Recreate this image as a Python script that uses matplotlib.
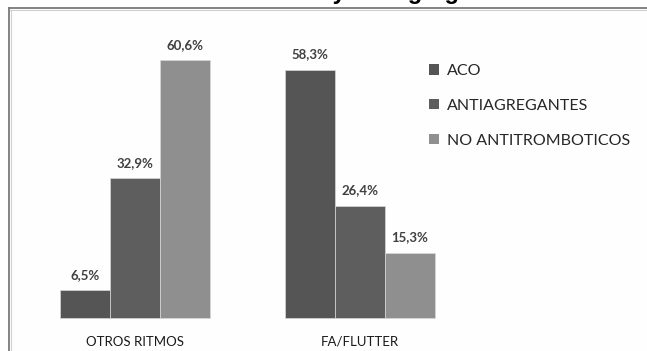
import matplotlib
matplotlib.use("Agg")
import matplotlib.pyplot as plt
from matplotlib.lines import Line2D
from matplotlib.patches import Patch
import numpy as np

categories = ["OTROS RITMOS", "FA/FLUTTER"]
series_names = ["ACO", "ANTIAGREGANTES", "NO ANTITROMBOTICOS"]
aco = [6.5, 58.3]
antiagregantes = [32.9, 26.4]
no_antitromboticos = [60.6, 15.3]
series_values = [aco, antiagregantes, no_antitromboticos]
colors = ["#555555", "#5e5e5e", "#8f8f8f"]
title = "Ritmo cardíaco y antiagregación"

W, H = 647, 351
fig = plt.figure(figsize=(W / 100, H / 100), dpi=100)
fig.patch.set_facecolor("white")

# plot area box (open on the right and bottom)
fig.patches.append(plt.Rectangle((9 / W, 0), 1 - 9 / W, 1 - 8 / H,
                                 transform=fig.transFigure,
                                 facecolor="#fefefe", edgecolor="none", zorder=-5))
fig.lines.append(Line2D([9 / W, 1], [1 - 8 / H, 1 - 8 / H], transform=fig.transFigure,
                        color="#7a7a7a", lw=1.3, zorder=-4))
fig.lines.append(Line2D([9 / W, 1], [1 - 9.5 / H, 1 - 9.5 / H], transform=fig.transFigure,
                        color="#d0d0d0", lw=0.8, zorder=-4))
fig.lines.append(Line2D([9 / W, 9 / W], [0, 1 - 8 / H], transform=fig.transFigure,
                        color="#7a7a7a", lw=1.3, zorder=-4))
fig.lines.append(Line2D([10.5 / W, 10.5 / W], [0, 1 - 9.5 / H], transform=fig.transFigure,
                        color="#d0d0d0", lw=0.8, zorder=-4))

ax = fig.add_axes([0, 0, 1, 1], zorder=2)
ax.patch.set_visible(False)
ax.axis("off")

group_px = 225.0
first_center_px = 135.0
px_per_pct = 4.257
zero_px = 318.0
ax.set_xlim(-first_center_px / group_px, (W - first_center_px) / group_px)
ax.set_ylim(-(H - zero_px) / px_per_pct, zero_px / px_per_pct)

x = np.arange(len(categories))
bw = 50.0 / group_px
offsets = [-bw, 0, bw]
handles = []
for vals, name, col, off in zip(series_values, series_names, colors, offsets):
    bars = ax.bar(x + off, vals, width=bw, color=col, edgecolor="#d8d8d8",
                  linewidth=0.5, label=name, zorder=2)
    handles.append(Patch(facecolor=col, edgecolor="none", label=name))
    for b, v in zip(bars, vals):
        ax.text(b.get_x() + b.get_width() / 2, v + 2.2,
                f"{v:.1f}".replace(".", ",") + "%",
                ha="center", va="bottom", fontsize=9.5, fontweight="bold",
                color="#404040", family="Lato")

for xi, cat in zip(x, categories):
    ax.text(xi, -(342 - zero_px) / px_per_pct, cat, ha="center", va="center",
            fontsize=9.5, color="#1a1a1a", family="Lato")

leg = ax.legend(handles=handles, loc="upper left",
                bbox_to_anchor=(429 / W, 1 - 64 / H), bbox_transform=fig.transFigure,
                frameon=False, borderpad=0, borderaxespad=0,
                handlelength=0.62, handleheight=0.62,
                handletextpad=0.5, labelspacing=1.3,
                prop={"family": "Lato", "size": 11.5})
for t in leg.get_texts():
    t.set_color("#262626")

# title sits above the top edge; only its descenders reach into the image
fig.text(155 / W, 1 + 1.0 / H, title, ha="left", va="baseline",
         fontsize=17, fontweight="bold", family="Liberation Sans", color="black")

fig.savefig("out.png", dpi=100, facecolor="white")
